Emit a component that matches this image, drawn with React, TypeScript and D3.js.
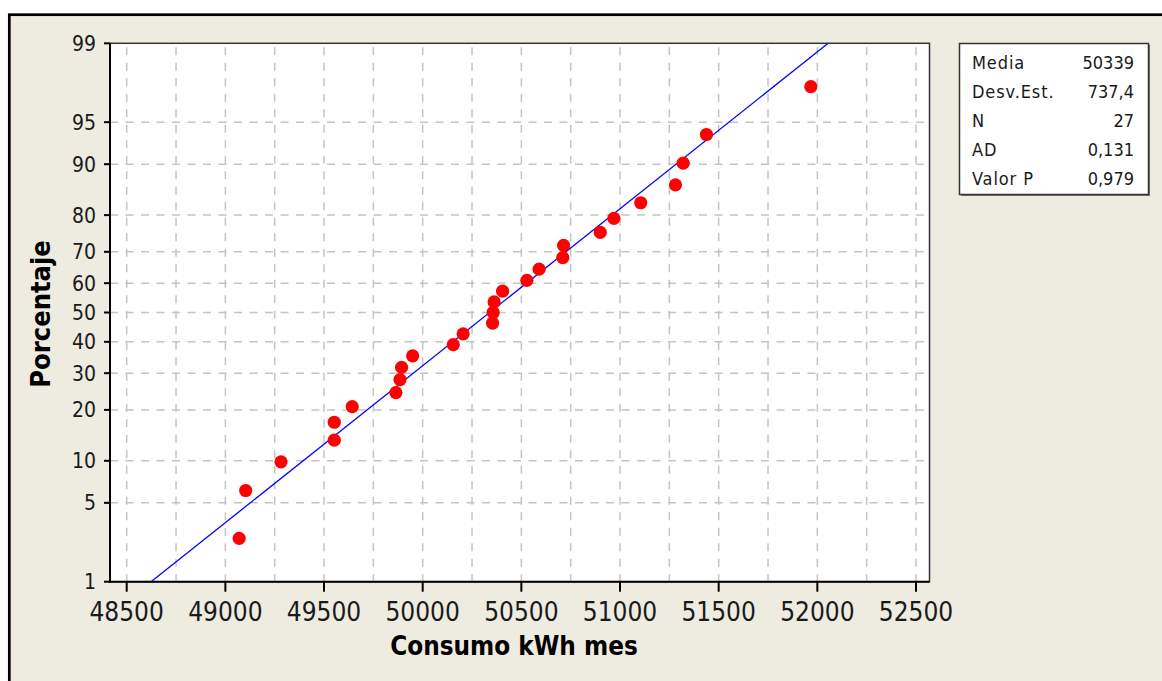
import React, { useEffect, useRef } from 'react';
import * as d3 from 'd3';

// Consumo kWh mes (sorted)
const consumo = [
  49070, 49103, 49282, 49552, 49552, 49643, 49864, 49885, 49893,
  49949, 50155, 50205, 50354, 50357, 50362, 50405, 50528, 50590,
  50710, 50714, 50900, 50969, 51105, 51281, 51320, 51438, 51967
];
// plotted percentage (median rank) for each point
const porcentaje = [
  2.55, 6.20, 9.85, 13.50, 17.15, 20.80, 24.45, 28.10, 31.75,
  35.40, 39.05, 42.70, 46.35, 50.00, 53.65, 57.30, 60.95, 64.60,
  68.25, 71.90, 75.55, 79.20, 82.85, 86.50, 90.15, 93.80, 97.45
];
const xTicks = [48500, 49000, 49500, 50000, 50500, 51000, 51500, 52000, 52500];
const yTicks = [1, 5, 10, 20, 30, 40, 50, 60, 70, 80, 90, 95, 99];
const yGrid = [5, 10, 20, 30, 40, 50, 60, 70, 80, 90, 95];
const statLabels = ['Media', 'Desv.Est.', 'N', 'AD', 'Valor P'];
const statValues = ['50339', '737,4', '27', '0,131', '0,979'];
const media = 50339;
const desvEst = 737.4;

const FONT = '"DejaVu Sans Condensed", "DejaVu Sans", sans-serif';

// inverse normal CDF (Acklam)
function probit(p: number): number {
  const a = [-3.969683028665376e1, 2.209460984245205e2, -2.759285104469687e2, 1.38357751867269e2, -3.066479806614716e1, 2.506628277459239];
  const b = [-5.447609879822406e1, 1.615858368580409e2, -1.556989798598866e2, 6.680131188771972e1, -1.328068155288572e1];
  const c = [-7.784894002430293e-3, -3.223964580411365e-1, -2.400758277161838, -2.549732539343734, 4.374664141464968, 2.938163982698783];
  const d = [7.784695709041462e-3, 3.224671290700398e-1, 2.445134137142996, 3.754408661907416];
  const pl = 0.02425;
  if (p < pl) {
    const q = Math.sqrt(-2 * Math.log(p));
    return (((((c[0] * q + c[1]) * q + c[2]) * q + c[3]) * q + c[4]) * q + c[5]) / ((((d[0] * q + d[1]) * q + d[2]) * q + d[3]) * q + 1);
  }
  if (p > 1 - pl) {
    const q = Math.sqrt(-2 * Math.log(1 - p));
    return -(((((c[0] * q + c[1]) * q + c[2]) * q + c[3]) * q + c[4]) * q + c[5]) / ((((d[0] * q + d[1]) * q + d[2]) * q + d[3]) * q + 1);
  }
  const q = p - 0.5;
  const r = q * q;
  return (((((a[0] * r + a[1]) * r + a[2]) * r + a[3]) * r + a[4]) * r + a[5]) * q / (((((b[0] * r + b[1]) * r + b[2]) * r + b[3]) * r + b[4]) * r + 1);
}

const App: React.FC = () => {
  const svgRef = useRef<SVGSVGElement>(null);

  useEffect(() => {
    if (!svgRef.current) return;
    const svg = d3.select(svgRef.current);
    svg.selectAll('*').remove();

    const left = 110, right = 929.5, top = 43.3, bottom = 581.7;

    const x = d3.scaleLinear().domain([48500, 52500]).range([126.7, 916]);
    const zScale = d3.scaleLinear().domain([probit(0.01), probit(0.99)]).range([bottom, top]);
    const y = (pct: number) => zScale(probit(pct / 100));

    // outer frame
    svg.append('rect')
      .attr('x', 9.3).attr('y', 14.7)
      .attr('width', 1200).attr('height', 700)
      .attr('fill', '#eeebe1')
      .attr('stroke', '#000').attr('stroke-width', 2.7);

    // plot area
    svg.append('rect')
      .attr('x', left).attr('y', top)
      .attr('width', right - left).attr('height', bottom - top)
      .attr('fill', '#fff')
      .attr('stroke', '#333').attr('stroke-width', 1.5);

    const grid = svg.append('g')
      .attr('stroke', '#c4c4c4').attr('stroke-width', 1.5)
      .attr('stroke-dasharray', '8,7.5');

    grid.selectAll('line.v')
      .data(d3.range(48500, 52501, 250))
      .join('line')
      .attr('class', 'v')
      .attr('x1', d => x(d)).attr('x2', d => x(d))
      .attr('y1', top + 4).attr('y2', bottom);

    grid.selectAll('line.h')
      .data(yGrid)
      .join('line')
      .attr('class', 'h')
      .attr('x1', left).attr('x2', right)
      .attr('y1', d => y(d)).attr('y2', d => y(d));

    // axes lines
    svg.append('line')
      .attr('x1', left).attr('x2', left).attr('y1', top).attr('y2', bottom + 1)
      .attr('stroke', '#000').attr('stroke-width', 2);
    svg.append('line')
      .attr('x1', left - 1).attr('x2', right).attr('y1', bottom).attr('y2', bottom)
      .attr('stroke', '#000').attr('stroke-width', 2);

    // y ticks
    const yt = svg.append('g');
    yt.selectAll('line')
      .data(yTicks)
      .join('line')
      .attr('x1', left - 6).attr('x2', left)
      .attr('y1', d => y(d)).attr('y2', d => y(d))
      .attr('stroke', '#000').attr('stroke-width', 2);
    yt.selectAll('text')
      .data(yTicks)
      .join('text')
      .attr('x', 96).attr('y', d => y(d) + 7.5)
      .attr('text-anchor', 'end')
      .attr('font-family', FONT).attr('font-size', 21)
      .attr('fill', '#1a1a1a')
      .text(d => d);

    // x ticks
    const xt = svg.append('g');
    xt.selectAll('line')
      .data(xTicks)
      .join('line')
      .attr('x1', d => x(d)).attr('x2', d => x(d))
      .attr('y1', bottom).attr('y2', bottom + 10)
      .attr('stroke', '#000').attr('stroke-width', 2);
    xt.selectAll('text')
      .data(xTicks)
      .join('text')
      .attr('x', d => x(d)).attr('y', 621)
      .attr('text-anchor', 'middle')
      .attr('font-family', FONT).attr('font-size', 26)
      .attr('fill', '#1a1a1a')
      .text(d => d);

    // axis titles
    svg.append('text')
      .attr('x', 514).attr('y', 655)
      .attr('text-anchor', 'middle')
      .attr('font-family', FONT).attr('font-size', 25.8).attr('font-weight', 'bold')
      .attr('fill', '#000')
      .text('Consumo kWh mes');
    svg.append('text')
      .attr('transform', 'translate(50,314) rotate(-90)')
      .attr('text-anchor', 'middle')
      .attr('font-family', FONT).attr('font-size', 27).attr('font-weight', 'bold')
      .attr('fill', '#000')
      .text('Porcentaje');

    // fitted line
    const clip = svg.append('clipPath').attr('id', 'plot-clip');
    clip.append('rect').attr('x', left).attr('y', top).attr('width', right - left).attr('height', bottom - top);
    const zs = [probit(0.01), probit(0.99)];
    svg.append('line')
      .attr('clip-path', 'url(#plot-clip)')
      .attr('x1', x(media + zs[0] * desvEst)).attr('y1', zScale(zs[0]))
      .attr('x2', x(media + zs[1] * desvEst)).attr('y2', zScale(zs[1]))
      .attr('stroke', '#0000ff').attr('stroke-width', 1.3);

    // points
    svg.append('g')
      .selectAll('circle')
      .data(consumo)
      .join('circle')
      .attr('cx', d => x(d))
      .attr('cy', (_, i) => y(porcentaje[i]))
      .attr('r', 6.6)
      .attr('fill', '#ff0000');

    // stats box
    const bx = 959.5, by = 43.5, bw = 189, bh = 151;
    svg.append('rect')
      .attr('x', bx + 1.5).attr('y', by + 1.5).attr('width', bw).attr('height', bh)
      .attr('fill', '#777');
    svg.append('rect')
      .attr('x', bx).attr('y', by).attr('width', bw).attr('height', bh)
      .attr('fill', '#fff').attr('stroke', '#333').attr('stroke-width', 1.5);
    const rows = svg.append('g')
      .attr('font-family', FONT).attr('font-size', 18).attr('fill', '#1a1a1a');
    rows.selectAll('text.l')
      .data(statLabels)
      .join('text')
      .attr('class', 'l')
      .attr('x', 972).attr('y', (_, i) => 68.5 + i * 29.2)
      .attr('letter-spacing', 0.9)
      .text(d => d);
    rows.selectAll('text.v')
      .data(statValues)
      .join('text')
      .attr('class', 'v')
      .attr('x', 1134).attr('y', (_, i) => 68.5 + i * 29.2)
      .attr('text-anchor', 'end')
      .text(d => d);
  }, []);

  return (
    <svg
      ref={svgRef}
      width={1162}
      height={681}
      style={{ position: 'absolute', left: 0, top: 0, background: '#fff' }}
    />
  );
};

export default App;
